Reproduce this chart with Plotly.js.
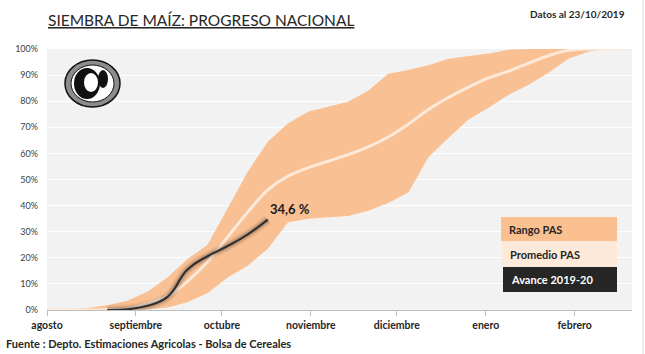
<!DOCTYPE html>
<html>
<head>
<meta charset="utf-8">
<script src="https://cdn.plot.ly/plotly-3.0.1.min.js"></script>
<style>html,body{margin:0;padding:0;background:#fff;}#chart{width:645px;height:354px;}</style>
</head>
<body>
<div id="chart"></div>
<script>
// ---- data ----
var semanas = ['2019-08-01','2019-08-08','2019-08-15','2019-08-22','2019-08-29','2019-09-05','2019-09-12','2019-09-19','2019-09-26','2019-10-03','2019-10-10','2019-10-17','2019-10-24','2019-10-31','2019-11-07','2019-11-14','2019-11-21','2019-11-28','2019-12-05','2019-12-12','2019-12-19','2019-12-26','2020-01-02','2020-01-09','2020-01-16','2020-01-23','2020-01-30','2020-02-06','2020-02-13','2020-02-20'];
var rangoMax = [0, 0.2, 0.8, 1.8, 3.5, 7, 12.5, 19.5, 25, 39, 53, 64.5, 71.5, 76, 78, 79.8, 84, 90.5, 92, 93.8, 96.3, 97.3, 98.3, 99.7, 100, 100, 100, 100, 100, 100];
var rangoMin = [0, 0, 0, 0, 0, 0.3, 1, 3, 6.5, 12.5, 17, 23.5, 33.5, 35, 35.5, 36, 38, 41, 45, 58.5, 66, 73, 77.5, 82.5, 86.3, 91, 96.4, 99, 100, 100];
var promedio = [0, 0, 0, 0.1, 0.4, 2.3, 5.3, 11, 18.5, 28, 37.5, 46, 51.3, 54.5, 57, 59.5, 62.5, 66.3, 71.2, 76.8, 81.4, 85.4, 88.9, 91.5, 94.6, 97.5, 99.5, 100, 100, 100];
var avanceFechas = ['2019-08-22','2019-08-29','2019-09-05','2019-09-12','2019-09-19','2019-09-26','2019-10-03','2019-10-10','2019-10-17'];
var avance = [0, 0.3, 1.6, 5, 15.5, 20.6, 24.5, 29, 34.6];
var mesesFechas = ['2019-08-01','2019-09-01','2019-10-01','2019-11-01','2019-12-01','2020-01-01','2020-02-01'];
var mesesNombres = ['agosto','septiembre','octubre','noviembre','diciembre','enero','febrero'];
var leyenda = ['Rango PAS','Promedio PAS','Avance 2019-20'];
var ultimoValor = '34,6 %';

// ---- layout helpers (pixel -> paper) ----
var W = 645, H = 354, mL = 47, mR = 13, mT = 49, mB = 44;
var pw = W - mL - mR, ph = H - mT - mB;
function px(x){ return (x - mL) / pw; }
function py(y){ return (H - mB - y) / ph; }

var FONT = 'Lato, Carlito, Calibri, "Open Sans", sans-serif';
var cBand = '#f9c093', cMean = '#fde9d9', cDark = '#262626';

var traces = [
  {x: semanas, y: rangoMin, type:'scatter', mode:'lines', line:{width:0, color:cBand}, hoverinfo:'skip', showlegend:false},
  {x: semanas, y: rangoMax, type:'scatter', mode:'lines', line:{width:0, color:cBand}, fill:'tonexty', fillcolor:cBand, hoverinfo:'skip', showlegend:false},
  {x: semanas, y: promedio, type:'scatter', mode:'lines', line:{width:3, color:cMean, shape:'spline', smoothing:0.8}, showlegend:false},
  {x: avanceFechas, y: avance, type:'scatter', mode:'lines', line:{width:10, color:'rgba(0,0,0,0.06)', shape:'spline', smoothing:1.3}, hoverinfo:'skip', showlegend:false},
  {x: avanceFechas, y: avance, type:'scatter', mode:'lines', line:{width:6, color:'rgba(0,0,0,0.14)', shape:'spline', smoothing:1.3}, hoverinfo:'skip', showlegend:false},
  {x: avanceFechas, y: avance, type:'scatter', mode:'lines', line:{width:2.2, color:'#303030', shape:'spline', smoothing:1.3}, showlegend:false}
];

var shapes = [
  // legend boxes
  {type:'rect', xref:'paper', yref:'paper', x0:px(501), x1:px(617), y0:py(241), y1:py(217), fillcolor:'#fac090', line:{width:0}},
  {type:'rect', xref:'paper', yref:'paper', x0:px(502), x1:px(617), y0:py(267), y1:py(241), fillcolor:'#fde9d9', line:{width:0}},
  {type:'rect', xref:'paper', yref:'paper', x0:px(503), x1:px(617), y0:py(292), y1:py(267), fillcolor:cDark, line:{width:0}},
  // logo (seal)
  {type:'circle', xref:'paper', yref:'paper', x0:px(65), x1:px(120), y0:py(107), y1:py(60), fillcolor:'#8c8c8c', line:{color:'#111', width:1.5}},
  {type:'circle', xref:'paper', yref:'paper', x0:px(71), x1:px(114), y0:py(102), y1:py(65), fillcolor:'#ffffff', line:{color:'#111', width:1}},
  {type:'circle', xref:'paper', yref:'paper', x0:px(74), x1:px(100), y0:py(99), y1:py(68), fillcolor:'#111111', line:{width:0}},
  {type:'circle', xref:'paper', yref:'paper', x0:px(84), x1:px(98), y0:py(92), y1:py(73), fillcolor:'#ffffff', line:{width:0}},
  {type:'circle', xref:'paper', yref:'paper', x0:px(98), x1:px(108), y0:py(88), y1:py(70), fillcolor:'#111111', line:{width:0}},
  // right border
  {type:'line', xref:'paper', yref:'paper', x0:px(643), x1:px(643), y0:py(354), y1:py(0), line:{color:'#d9d9d9', width:1}}
];

var annotations = [
  {xref:'paper', yref:'paper', x:px(46), y:py(20), xanchor:'left', yanchor:'middle', showarrow:false,
   text:'<u>SIEMBRA DE MAÍZ: PROGRESO NACIONAL</u>', font:{family:FONT, size:15.5, color:'#262626'}},
  {xref:'paper', yref:'paper', x:px(627), y:py(14), xanchor:'right', yanchor:'middle', showarrow:false,
   text:'<b>Datos al 23/10/2019</b>', font:{family:FONT, size:10, color:'#262626'}},
  {xref:'paper', yref:'paper', x:px(4), y:py(343), xanchor:'left', yanchor:'middle', showarrow:false,
   text:'<b>Fuente : Depto. Estimaciones Agricolas - Bolsa de Cereales</b>', font:{family:FONT, size:11, color:'#262626'}},
  {x: avanceFechas[avanceFechas.length-1], y: avance[avance.length-1], xanchor:'left', yanchor:'middle', yshift:11, xshift:0, showarrow:false,
   text:'<b>'+ultimoValor+'</b>', font:{family:FONT, size:13, color:'#1a1a1a'}},
  {xref:'paper', yref:'paper', x:px(507), y:py(229), xanchor:'left', yanchor:'middle', showarrow:false,
   text:'<b>'+leyenda[0]+'</b>', font:{family:FONT, size:11, color:'#262626'}},
  {xref:'paper', yref:'paper', x:px(508), y:py(254), xanchor:'left', yanchor:'middle', showarrow:false,
   text:'<b>'+leyenda[1]+'</b>', font:{family:FONT, size:11, color:'#262626'}},
  {xref:'paper', yref:'paper', x:px(509), y:py(279), xanchor:'left', yanchor:'middle', showarrow:false,
   text:'<b>'+leyenda[2]+'</b>', font:{family:FONT, size:11, color:'#ffffff'}}
];

var layout = {
  width: W, height: H,
  margin: {l:mL, r:mR, t:mT, b:mB, pad:0},
  paper_bgcolor:'#ffffff', plot_bgcolor:'#f2f2f2',
  showlegend:false,
  font:{family:FONT},
  xaxis:{
    type:'date', range:['2019-08-01','2020-02-21'],
    tickmode:'array', tickvals:mesesFechas, ticktext:mesesNombres.map(function(s){return '<b>'+s+'</b>';}),
    ticks:'outside', ticklen:5, tickcolor:'#bfbfbf', tickwidth:1,
    showline:true, linecolor:'#bfbfbf', linewidth:1,
    showgrid:false, zeroline:false,
    tickfont:{family:FONT, size:10.5, color:'#262626'}
  },
  yaxis:{
    range:[0,100], dtick:10, tick0:0, ticksuffix:'%',
    showgrid:true, gridcolor:'#ffffff', gridwidth:1,
    zeroline:false, showline:false, ticks:'',
    ticklabelstandoff:8,
    tickfont:{family:FONT, size:9, color:'#404040'}
  },
  shapes: shapes,
  annotations: annotations
};

Plotly.newPlot('chart', traces, layout, {staticPlot:true, displayModeBar:false});
</script>
</body>
</html>
